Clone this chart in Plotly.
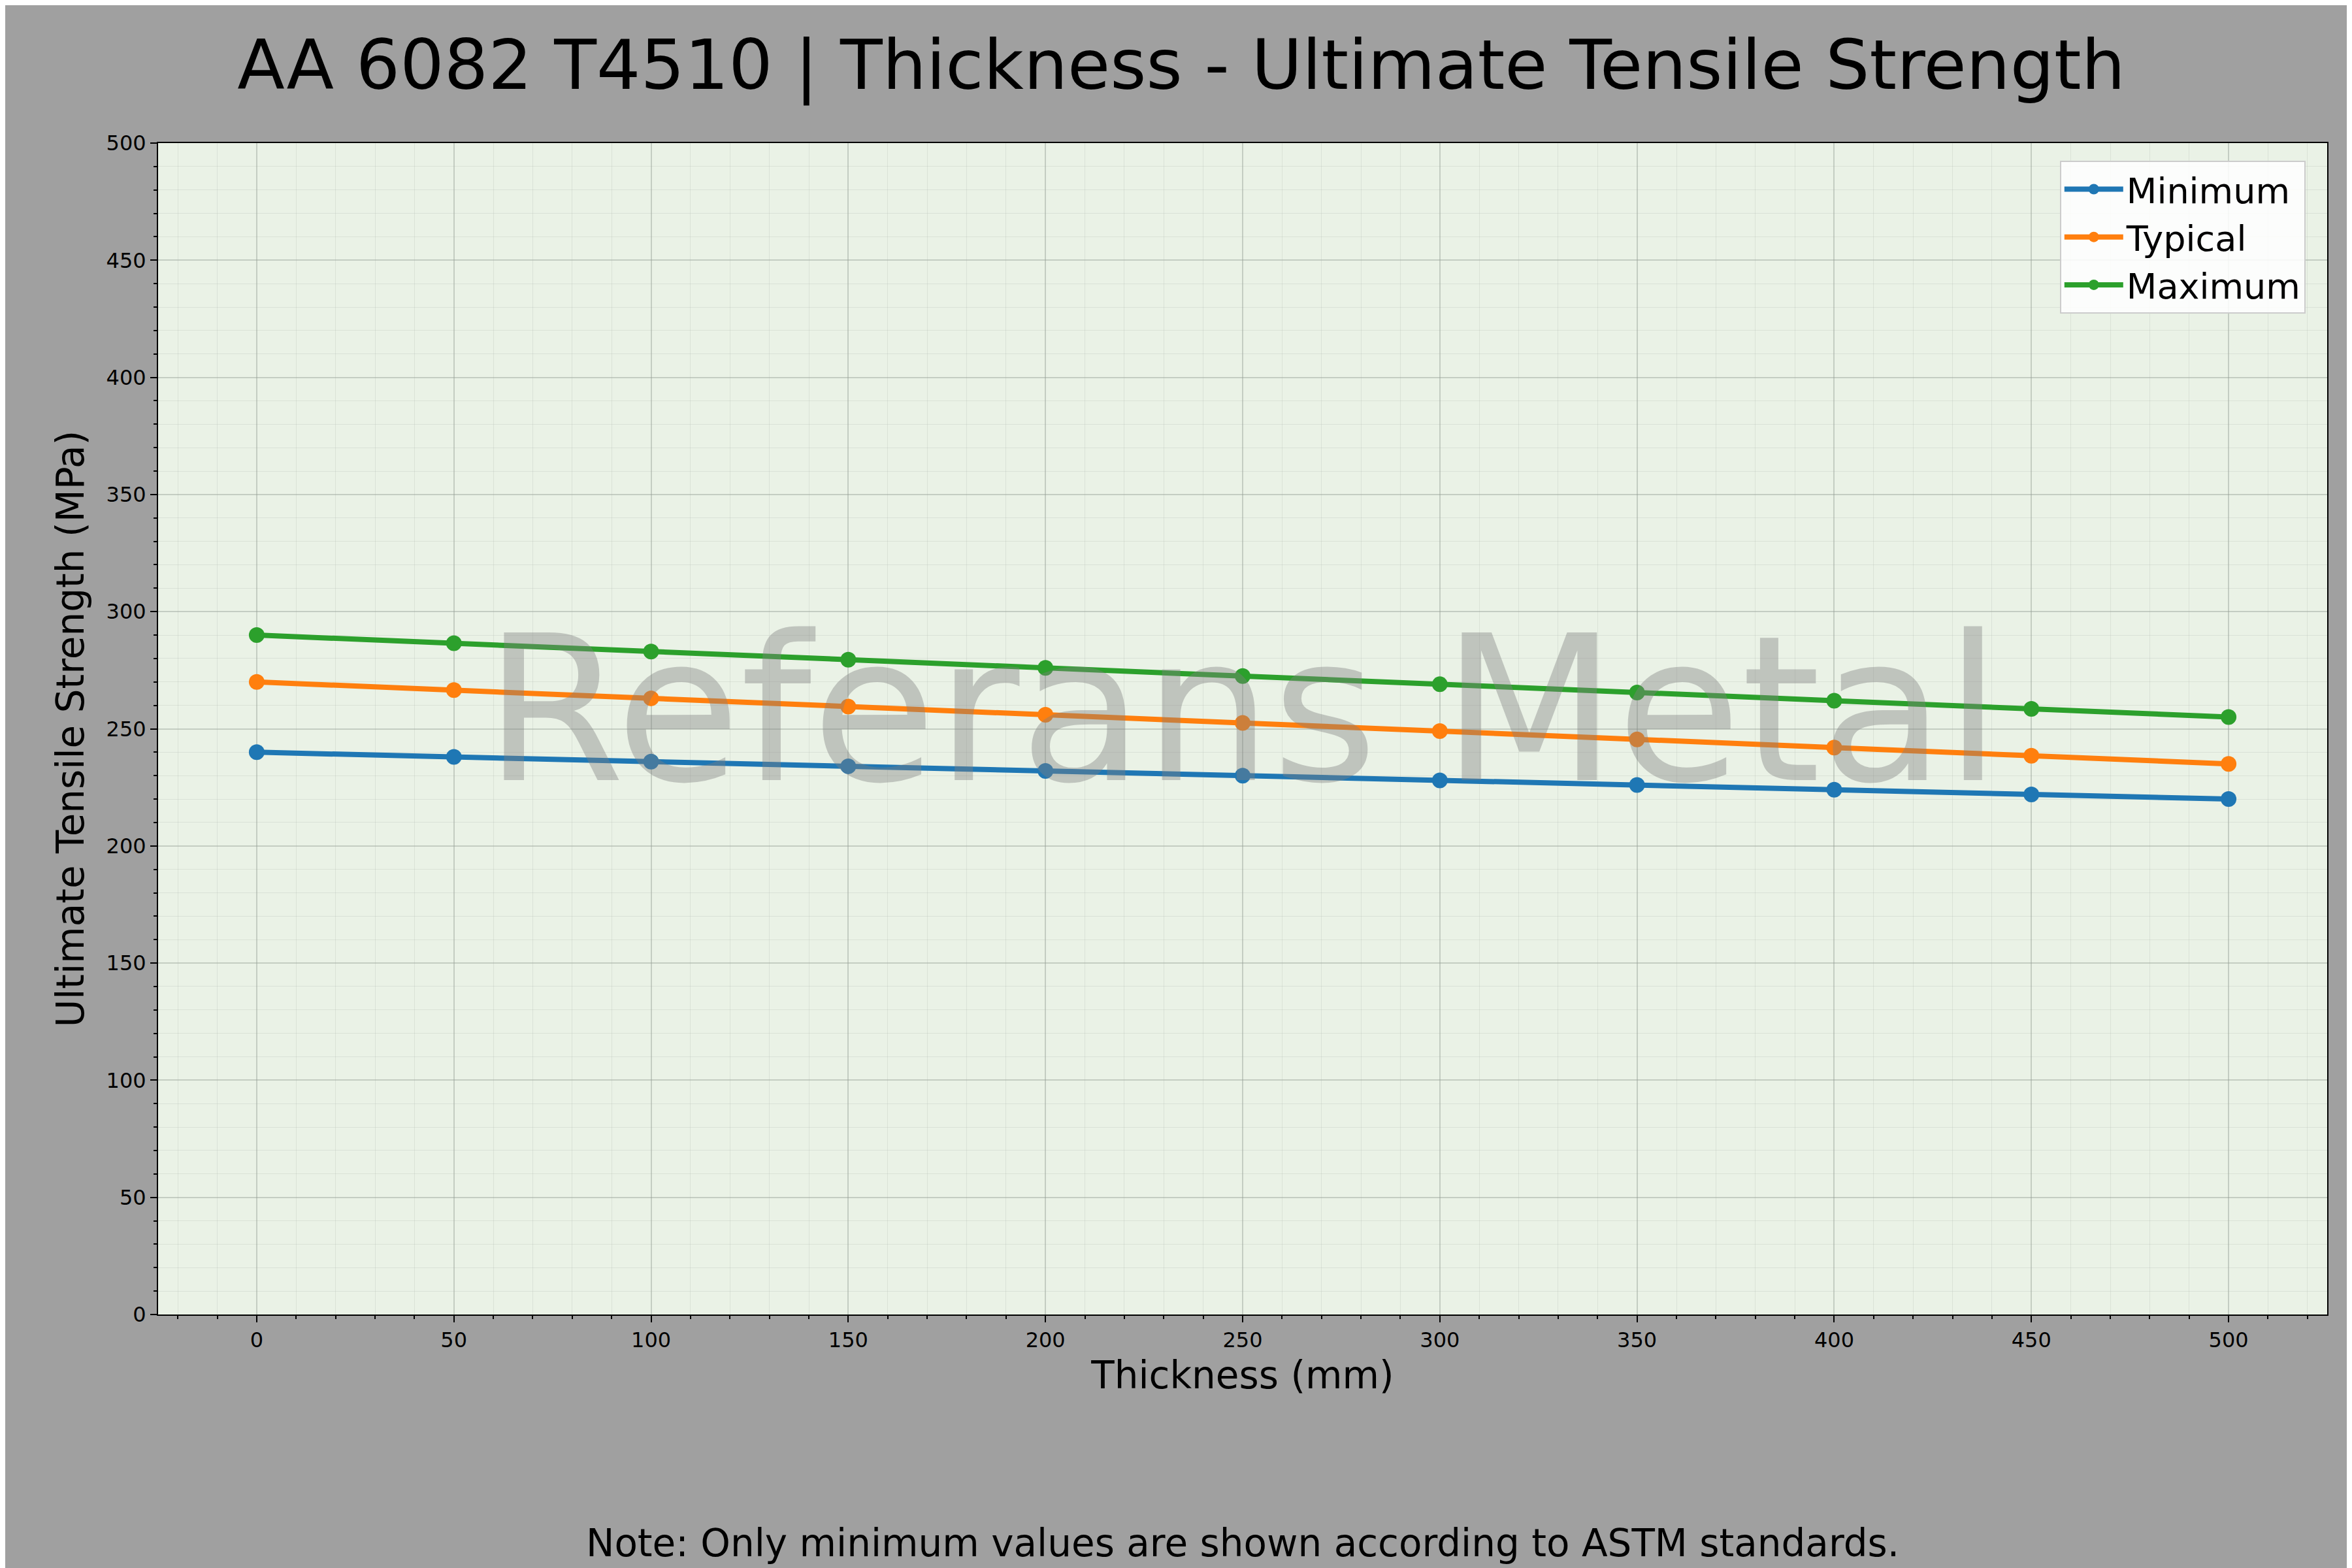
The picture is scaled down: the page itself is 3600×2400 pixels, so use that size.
import plotly.graph_objects as go

thickness = [0, 50, 100, 150, 200, 250, 300, 350, 400, 450, 500]
minimum = [240, 238, 236, 234, 232, 230, 228, 226, 224, 222, 220]
typical = [270, 266.5, 263, 259.5, 256, 252.5, 249, 245.5, 242, 238.5, 235]
maximum = [290, 286.5, 283, 279.5, 276, 272.5, 269, 265.5, 262, 258.5, 255]
series = [("Minimum", minimum, "#1f77b4"), ("Typical", typical, "#ff7f0e"), ("Maximum", maximum, "#2ca02c")]

fig = go.Figure()
for name, vals, col in series:
    fig.add_trace(go.Scatter(x=thickness, y=vals, name=name, mode="lines+markers",
                             line=dict(color=col, width=8), marker=dict(color=col, size=24)))

axis_common = dict(showline=True, linecolor="black", linewidth=2, mirror=True,
                   ticks="outside", ticklen=10, tickwidth=2, tickcolor="black",
                   tickfont=dict(size=32, color="black"), showgrid=True,
                   gridcolor="rgba(150,160,150,0.45)", gridwidth=2, zeroline=False,
                   minor=dict(dtick=10, showgrid=True, gridcolor="rgba(170,180,170,0.25)", gridwidth=1,
                              ticks="outside", ticklen=5, tickcolor="black"))
fig.update_xaxes(range=[-25, 525], dtick=50, tick0=0,
                 title=dict(text="Thickness (mm)", font=dict(size=58, color="black")), **axis_common)
fig.update_yaxes(range=[0, 500], dtick=50, tick0=0,
                 title=dict(text="Ultimate Tensile Strength (MPa)", font=dict(size=58, color="black")), **axis_common)

fig.add_annotation(x=0.5, y=0.516, xref="paper", yref="paper", text="Referans Metal", showarrow=False,
                   font=dict(size=310, color="rgba(128,128,128,0.4)", family="DejaVu Sans"))
fig.add_annotation(x=0.5, y=-0.195, xref="paper", yref="paper", yanchor="middle",
                   text="Note: Only minimum values are shown according to ASTM standards.",
                   showarrow=False, font=dict(size=58, color="black"))

fig.update_layout(
    width=3600, height=2400,
    paper_bgcolor="#a0a0a0", plot_bgcolor="#eaf2e6",
    font=dict(family="DejaVu Sans", color="black"),
    title=dict(text="AA 6082 T4510 | Thickness - Ultimate Tensile Strength", x=0.5, xanchor="center",
               y=0.962, yanchor="middle", font=dict(size=106, color="black")),
    margin=dict(l=234, r=46, t=211, b=396),
    legend=dict(x=0.99, y=0.985, xanchor="right", yanchor="top", bgcolor="rgba(255,255,255,0.85)",
                bordercolor="#cccccc", borderwidth=2, font=dict(size=54, color="black"),
                itemwidth=90, tracegroupgap=10),
)
fig.write_html("out.html")
